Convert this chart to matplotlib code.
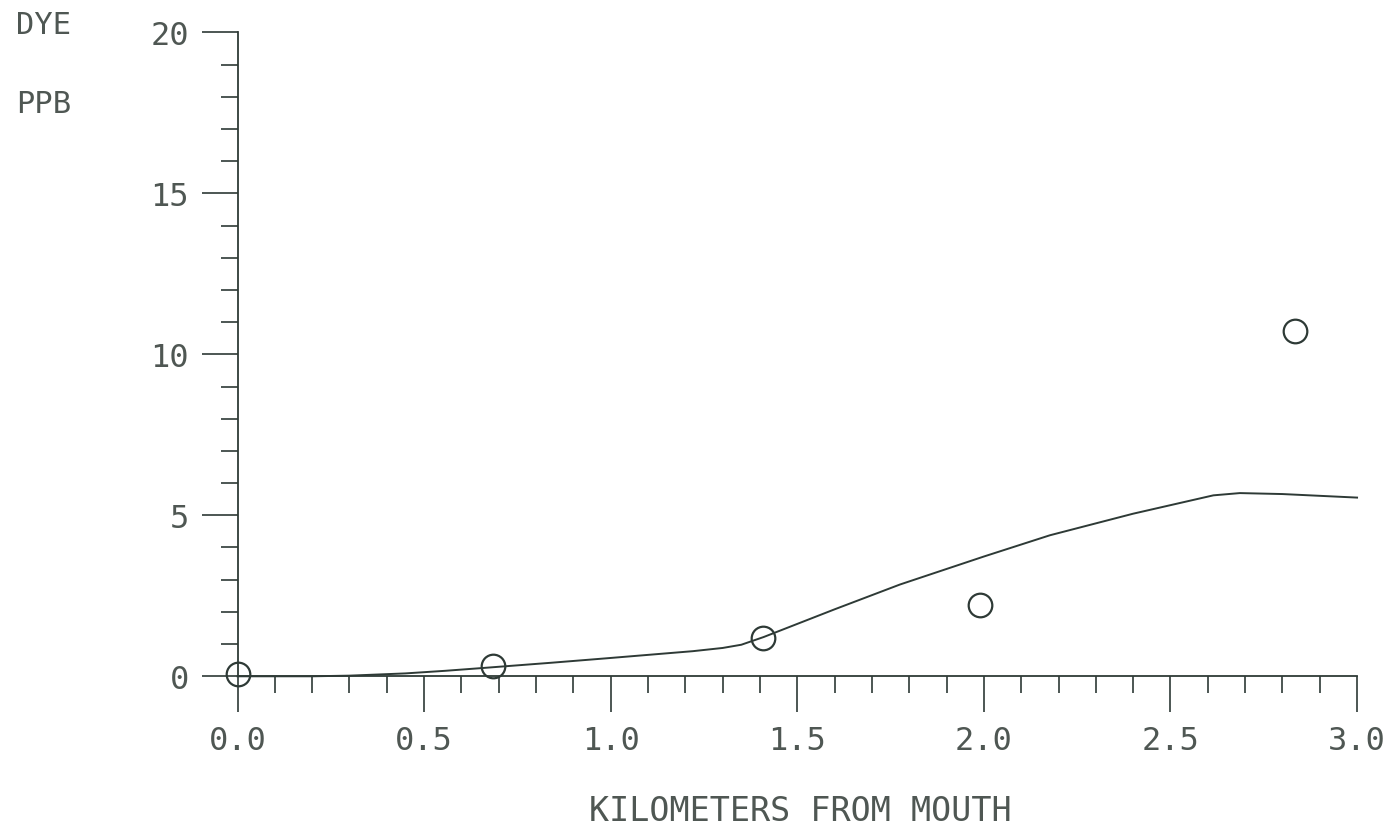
import matplotlib
matplotlib.use("Agg")
import matplotlib.pyplot as plt
from matplotlib.ticker import MultipleLocator, FormatStrFormatter

# Observed dye concentrations (circles)
obs_km = [0.0, 0.684, 1.407, 1.99, 2.834]
obs_ppb = [0.06, 0.32, 1.18, 2.21, 10.72]

# Model curve (line)
model_km = [0.0, 0.2, 0.3, 0.45, 0.556, 0.66, 0.84, 0.99, 1.105, 1.22, 1.30, 1.35, 1.41,
            1.6, 1.775, 2.0, 2.177, 2.4, 2.615, 2.686, 2.8, 3.0]
model_ppb = [0.0, 0.0, 0.02, 0.09, 0.17, 0.26, 0.42, 0.56, 0.67, 0.78, 0.88, 0.98, 1.22,
             2.08, 2.85, 3.72, 4.38, 5.05, 5.62, 5.69, 5.66, 5.55]

x_label = "KILOMETERS FROM MOUTH"
y_label_top = "DYE"
y_label_bottom = "PPB"

ink = "#2e3a36"
txt = "#4f5753"
mono = ["DejaVu Sans Mono"]

fig = plt.figure(figsize=(13.94, 8.29), dpi=100)
fig.patch.set_facecolor("white")
ax = fig.add_axes([0.1704, 0.183, 0.8031, 0.7768])

ax.plot(model_km, model_ppb, color=ink, lw=1.4, clip_on=False, zorder=3)
ax.plot(obs_km, obs_ppb, linestyle="none", marker="o", ms=17, mfc="none",
        mec=ink, mew=1.6, clip_on=False, zorder=4)

ax.set_xlim(0, 3.0)
ax.set_ylim(0, 20)

for s in ["top", "right"]:
    ax.spines[s].set_visible(False)
for s in ["left", "bottom"]:
    ax.spines[s].set_color(ink)
    ax.spines[s].set_linewidth(1.3)

ax.xaxis.set_major_locator(MultipleLocator(0.5))
ax.xaxis.set_minor_locator(MultipleLocator(0.1))
ax.yaxis.set_major_locator(MultipleLocator(5))
ax.yaxis.set_minor_locator(MultipleLocator(1))
ax.xaxis.set_major_formatter(FormatStrFormatter("%.1f"))
ax.yaxis.set_major_formatter(FormatStrFormatter("%d"))

ax.tick_params(axis="both", which="major", direction="out", length=26, width=1.2,
               color=ink, labelcolor=txt, labelsize=23, pad=9)
ax.tick_params(axis="both", which="minor", direction="out", length=12.5, width=1.2,
               color=ink)
for lab in ax.get_xticklabels() + ax.get_yticklabels():
    lab.set_family(mono)

fig.text(800 / 1394, 1 - 812 / 829, x_label, ha="center", va="center",
         fontsize=24, color=txt, family=mono)
fig.text(16 / 1394, 1 - 25 / 829, y_label_top, ha="left", va="center",
         fontsize=22, color=txt, family=mono)
fig.text(16 / 1394, 1 - 105 / 829, y_label_bottom, ha="left", va="center",
         fontsize=22, color=txt, family=mono)

fig.savefig("out.png", dpi=100, facecolor="white")
